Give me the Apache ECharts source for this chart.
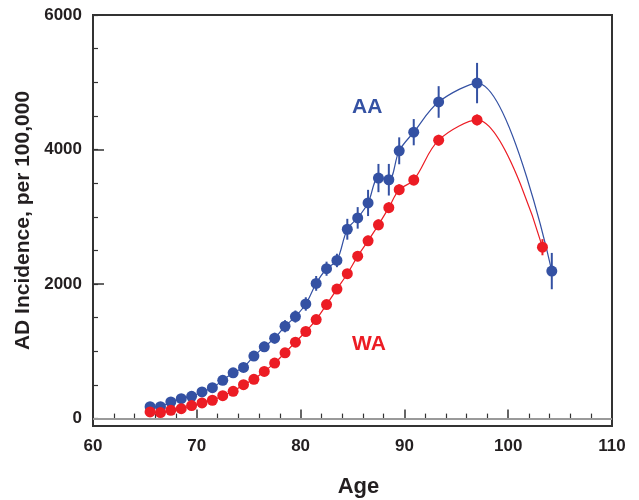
<!DOCTYPE html>
<html>
<head>
<meta charset="utf-8">
<script src="https://cdn.jsdelivr.net/npm/echarts@6/dist/echarts.min.js"></script>
<style>html,body{margin:0;padding:0;background:#fff}#c{width:639px;height:500px}</style>
</head>
<body>
<div id="c"></div>
<script>
// Data
const aaAge = [65.5,66.5,67.5,68.5,69.5,70.5,71.5,72.5,73.5,74.5,75.5,76.5,77.5,78.5,79.5,80.5,81.5,82.5,83.5,84.5,85.5,86.5,87.5,88.5,89.5,90.9,93.3,97.0,104.2];
const aaVal = [178,178,247,296,332,396,459,569,681,761,929,1067,1196,1373,1517,1704,2010,2228,2351,2815,2984,3206,3576,3551,3981,4258,4707,4988,2193];
const aaErr = [30,30,35,40,40,45,50,55,60,65,70,75,80,90,90,100,110,105,100,155,160,195,210,235,200,195,235,300,270];
const waAge = [65.5,66.5,67.5,68.5,69.5,70.5,71.5,72.5,73.5,74.5,75.5,76.5,77.5,78.5,79.5,80.5,81.5,82.5,83.5,84.5,85.5,86.5,87.5,88.5,89.5,90.9,93.3,97.0,103.3];
const waVal = [99,89,124,148,193,233,273,341,406,504,584,702,825,978,1136,1295,1473,1695,1926,2154,2415,2643,2880,3136,3403,3547,4139,4440,2548];
const waErr = [20,20,20,25,25,30,30,35,35,40,40,45,50,55,60,60,65,65,70,70,75,75,80,80,80,80,80,80,120];
const yLabelTicks = [0,2000,4000,6000];
const yMinorTicks = [0,500,1000,1500,2000,2500,3000,3500,4000,4500,5000,5500,6000];
const seriesNames = ['AA','WA'];

const BLUE = '#3451a3', RED = '#ec1c24', INK = '#231f20';
const FONT = 'Liberation Sans, Arial, Helvetica, sans-serif';

function zip(xs, ys){ return xs.map((x,i)=>[x, ys[i]]); }
function errData(xs, ys, es){ return xs.map((x,i)=>[x, ys[i]-es[i], ys[i]+es[i]]); }
function errSeries(data, color){
  return {
    type:'custom', data, z:3, silent:true,
    renderItem(params, api){
      const p1 = api.coord([api.value(0), api.value(1)]);
      const p2 = api.coord([api.value(0), api.value(2)]);
      return {type:'line', shape:{x1:p1[0],y1:p1[1],x2:p2[0],y2:p2[1]}, style:{stroke:color, lineWidth:2}};
    },
    encode:{x:0, y:[1,2]}
  };
}

const chart = echarts.init(document.getElementById('c'), null, {renderer:'canvas'});
chart.setOption({
  animation:false,
  backgroundColor:'#fff',
  grid:{left:93, right:27, top:15, bottom:74, show:true, borderColor:'#333', borderWidth:2, backgroundColor:'transparent', containLabel:false, outerBoundsMode:'none'},
  xAxis:{
    type:'value', min:60, max:110, interval:10,
    name:'Age', nameLocation:'middle', nameGap:50,
    nameTextStyle:{fontFamily:FONT, fontWeight:'bold', fontSize:22, color:INK, padding:[0,0,0,12]},
    axisLine:{show:true, lineStyle:{color:'#333', width:2}},
    axisTick:{show:true, inside:true, length:9, lineStyle:{color:'#333', width:1.5}},
    minorTick:{show:true, splitNumber:5, length:5, lineStyle:{color:'#333', width:1.2}},
    axisLabel:{fontFamily:FONT, fontWeight:'bold', fontSize:17, color:INK, margin:12, formatter:v=>String(v)},
    splitLine:{show:false}
  },
  yAxis:[{
    type:'value', min:-110, max:6000,
    name:'AD Incidence, per 100,000', nameLocation:'middle', nameGap:57,
    nameTextStyle:{fontFamily:FONT, fontWeight:'bold', fontSize:21, color:INK},
    axisLine:{show:true, lineStyle:{color:'#333', width:2}},
    axisTick:{show:true, inside:true, length:11, customValues:yLabelTicks, lineStyle:{color:'#333', width:1.5}},
    axisLabel:{fontFamily:FONT, fontWeight:'bold', fontSize:17, color:INK, margin:11, customValues:yLabelTicks, formatter:v=>String(v)},
    splitLine:{show:false}
  },{
    type:'value', min:-110, max:6000, position:'left',
    axisLine:{show:false},
    axisTick:{show:true, inside:true, length:5, customValues:yMinorTicks, lineStyle:{color:'#333', width:1.2}},
    axisLabel:{show:false},
    splitLine:{show:false}
  }],
  graphic:[
    {type:'text', left:352, top:97, style:{text:seriesNames[0], font:'bold 21px '+FONT, fill:BLUE}},
    {type:'text', left:352, top:334, style:{text:seriesNames[1], font:'bold 21px '+FONT, fill:RED}}
  ],
  series:[
    {
      name:seriesNames[0], type:'line', data:zip(aaAge, aaVal), smooth:0.35,
      symbol:'circle', symbolSize:11, z:4,
      itemStyle:{color:BLUE}, lineStyle:{color:BLUE, width:1.2},
      markLine:{silent:true, symbol:'none', label:{show:false}, lineStyle:{color:'#9a9a9a', width:2, type:'solid'}, data:[{yAxis:0}], z:1}
    },
    errSeries(errData(aaAge, aaVal, aaErr), BLUE),
    {
      name:seriesNames[1], type:'line', data:zip(waAge, waVal), smooth:0.35,
      symbol:'circle', symbolSize:11, z:5,
      itemStyle:{color:RED}, lineStyle:{color:RED, width:1.2}
    },
    errSeries(errData(waAge, waVal, waErr), RED)
  ]
});
</script>
</body>
</html>
